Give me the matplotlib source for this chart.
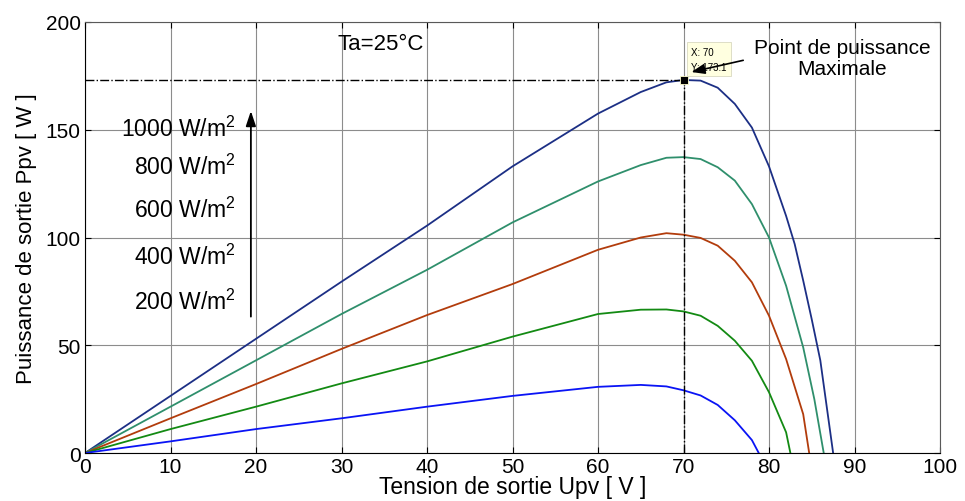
import matplotlib.pyplot as plt

plt.rcParams['font.family'] = ['Liberation Sans', 'DejaVu Sans']
plt.rcParams['mathtext.default'] = 'regular'

# PV power curves, one per irradiance level
v_1000 = [0, 10, 20, 30, 40, 50, 60, 65, 68, 70, 72, 74, 76, 78, 80, 82, 83, 84, 85, 86, 87.5]
p_1000 = [0, 26.5, 53, 79.5, 105.5, 133, 157.5, 167.5, 172, 173.1, 172.8, 169.5, 162, 151, 133, 110, 97, 80, 62, 43, 0]

v_800 = [0, 10, 20, 30, 40, 50, 60, 65, 68, 70, 72, 74, 76, 78, 80, 82, 84, 85.3, 86.4]
p_800 = [0, 21.5, 43, 64.5, 85, 107, 126, 133.6, 137, 137.3, 136.4, 132.6, 126.4, 115.5, 100, 77.6, 49, 25, 0]

v_600 = [0, 10, 20, 30, 40, 50, 60, 65, 68, 70, 72, 74, 76, 78, 80, 82, 84, 84.7]
p_600 = [0, 16.1, 32, 48.3, 64, 78.4, 94.3, 100, 102, 101.3, 99.8, 96.2, 89.2, 79.2, 63.7, 43.6, 18, 0]

v_400 = [0, 10, 20, 30, 40, 50, 60, 65, 68, 70, 72, 74, 76, 78, 80, 82, 82.5]
p_400 = [0, 11.1, 21.5, 32.3, 42.5, 54, 64.5, 66.5, 66.6, 65.7, 63.7, 59, 52.1, 42.8, 28.2, 9.6, 0]

v_200 = [0, 10, 20, 30, 40, 50, 60, 65, 68, 70, 72, 74, 76, 78, 78.8]
p_200 = [0, 5.4, 11.1, 16.1, 21.5, 26.5, 30.7, 31.6, 30.9, 29.1, 26.7, 22.3, 15.2, 6, 0]

irradiance = ['1000', '800', '600', '400', '200']
label_y = [150.5, 133, 113, 91.5, 70.5]

mpp_v = 70
mpp_p = 173.1

curves = [(v_1000, p_1000, '#1c2f85'),
          (v_800, p_800, '#2f8f6c'),
          (v_600, p_600, '#b23c0c'),
          (v_400, p_400, '#138a13'),
          (v_200, p_200, '#0a14f5')]

fig = plt.figure(figsize=(9.65, 5.02), dpi=100)
ax = fig.add_axes([0.0881, 0.0956, 0.886, 0.8586])

for v, p, c in curves:
    ax.plot(v, p, color=c, lw=1.3)

# max power point guides
ax.plot([0, mpp_v], [mpp_p, mpp_p], color='k', ls='-.', lw=1)
ax.plot([mpp_v, mpp_v], [0, mpp_p], color='k', ls='-.', lw=1)
ax.plot(mpp_v, mpp_p, 's', color='k', ms=5.5, markeredgecolor='#ffffcc', markeredgewidth=0.6)

# data tip box
ax.text(70.9, 177, 'X: 70\nY: 173.1', fontsize=7, va='bottom', ha='left', linespacing=1.6,
        bbox=dict(boxstyle='square,pad=0.45', fc='#ffffe0', ec='#d8d8c0', lw=0.6))

ax.annotate('', xy=(70.6, 176.5), xytext=(77.3, 182.5),
            arrowprops=dict(arrowstyle='-|>,head_length=0.8,head_width=0.3', color='k', lw=1.2))
ax.text(88.6, 183.3, 'Point de puissance\nMaximale', fontsize=15, ha='center', va='center',
        linespacing=1.15)

ax.text(29.5, 190, 'Ta=25°C', fontsize=16, ha='left', va='center')

for lab, y in zip(irradiance, label_y):
    ax.text(17.6, y, lab + r' W/m$^2$', fontsize=16.5, ha='right', va='center')

ax.annotate('', xy=(19.4, 160), xytext=(19.4, 62),
            arrowprops=dict(arrowstyle='-|>,head_length=0.9,head_width=0.3', color='k', lw=1.3))

ax.set_xlim(0, 100)
ax.set_ylim(0, 200)
ax.set_xticks(range(0, 101, 10))
ax.set_yticks(range(0, 201, 50))
ax.grid(True, color='0.55', lw=0.8)
ax.tick_params(direction='in', length=4, labelsize=15, top=True, right=True, pad=3)
for side in ['top', 'right']:
    ax.spines[side].set_color('0.35')
for side in ['left', 'bottom']:
    ax.spines[side].set_color('k')

ax.set_xlabel('Tension de sortie Upv [ V ]', fontsize=16.5, labelpad=-1)
ax.set_ylabel('Puissance de sortie Ppv [ W ]', fontsize=16, labelpad=6)

fig.savefig('out.png', dpi=100)
